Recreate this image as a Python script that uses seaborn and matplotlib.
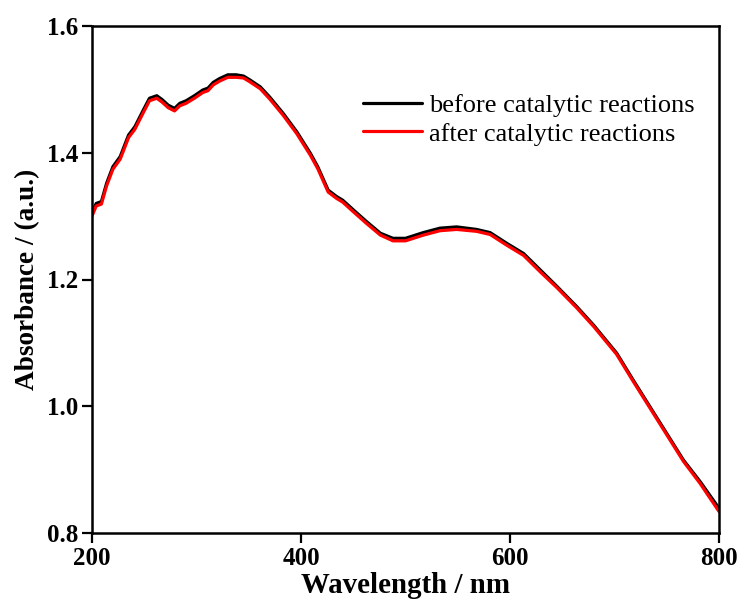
import numpy as np
import pandas as pd
import matplotlib
matplotlib.use("Agg")
import matplotlib.pyplot as plt
import seaborn as sns

wavelength = [200, 204, 209, 214, 220, 227, 235, 241, 249, 255, 262, 267, 273, 279, 284, 290,
              298, 306, 311, 316, 322, 330, 338, 345, 351, 361, 370, 383, 396, 409, 416, 426,
              434, 440, 450, 463, 476, 488, 500, 517, 533, 549, 568, 581, 597, 613, 629, 645,
              664, 680, 702, 718, 734, 750, 766, 782, 800]
before = [1.305, 1.320, 1.323, 1.352, 1.378, 1.394, 1.428, 1.441, 1.467, 1.486, 1.490, 1.484,
          1.475, 1.470, 1.478, 1.482, 1.490, 1.499, 1.502, 1.511, 1.517, 1.523, 1.523, 1.521,
          1.515, 1.504, 1.488, 1.462, 1.433, 1.399, 1.378, 1.341, 1.331, 1.325, 1.310, 1.291,
          1.273, 1.265, 1.265, 1.274, 1.281, 1.283, 1.279, 1.274, 1.257, 1.241, 1.215, 1.189,
          1.157, 1.128, 1.084, 1.041, 0.999, 0.957, 0.915, 0.881, 0.839]
after = [1.300, 1.316, 1.319, 1.348, 1.374, 1.390, 1.424, 1.437, 1.463, 1.482, 1.486, 1.480,
         1.471, 1.466, 1.474, 1.478, 1.486, 1.495, 1.498, 1.507, 1.513, 1.519, 1.519, 1.518,
         1.512, 1.501, 1.485, 1.459, 1.430, 1.396, 1.375, 1.338, 1.328, 1.322, 1.307, 1.288,
         1.270, 1.261, 1.261, 1.270, 1.277, 1.279, 1.276, 1.271, 1.254, 1.238, 1.212, 1.187,
         1.155, 1.126, 1.082, 1.039, 0.997, 0.955, 0.913, 0.878, 0.834]
series_names = ["before catalytic reactions", "after catalytic reactions"]
colors = ["black", "red"]
x_ticks = [200, 400, 600, 800]
y_ticks = [0.8, 1.0, 1.2, 1.4, 1.6]
y_tick_labels = ["0.8", "1.0", "1.2", "1.4", "1.6"]

df = pd.DataFrame({
    "Wavelength": wavelength * 2,
    "Absorbance": before + after,
    "Sample": [series_names[0]] * len(wavelength) + [series_names[1]] * len(wavelength),
})

sns.set_style("ticks")
plt.rcParams["font.family"] = ["Liberation Serif", "DejaVu Serif"]
plt.rcParams["text.color"] = "black"
plt.rcParams["axes.labelcolor"] = "black"
plt.rcParams["xtick.color"] = "black"
plt.rcParams["ytick.color"] = "black"
plt.rcParams["axes.edgecolor"] = "black"

fig = plt.figure(figsize=(7.41, 6.03), dpi=100)
ax = fig.add_axes([92 / 741, 1 - 533 / 603, (719 - 92) / 741, (533 - 26) / 603])

sns.lineplot(data=df, x="Wavelength", y="Absorbance", hue="Sample",
             palette=dict(zip(series_names, colors)), estimator=None, sort=False,
             linewidth=2.3, ax=ax)

ax.set_xlim(200, 800)
ax.set_ylim(0.8, 1.6)
ax.set_xticks(x_ticks)
ax.set_yticks(y_ticks)
ax.set_yticklabels(y_tick_labels)
for lab in ax.get_xticklabels() + ax.get_yticklabels():
    lab.set_fontweight("bold")
    lab.set_fontsize(18)
    lab.set_color("black")
ax.tick_params(direction="out", length=7, width=1.6, pad=3, colors="black")
for s in ax.spines.values():
    s.set_visible(True)
    s.set_linewidth(1.8)
    s.set_color("black")

ax.set_xlabel("Wavelength / nm", fontsize=20.8, fontweight="bold", labelpad=1.5, color="black")
ax.set_ylabel("Absorbance / (a.u.)", fontsize=19.6, fontweight="bold", labelpad=4.5, color="black")

leg = ax.legend(loc="upper left", bbox_to_anchor=(0.432, 0.867), frameon=False,
                fontsize=19, handlelength=2.23, handletextpad=0.27, labelspacing=0.2,
                borderpad=0, borderaxespad=0)
for line in leg.get_lines():
    line.set_linewidth(2.3)
for t in leg.get_texts():
    t.set_color("black")

fig.savefig("out.png", dpi=100, facecolor="white")
